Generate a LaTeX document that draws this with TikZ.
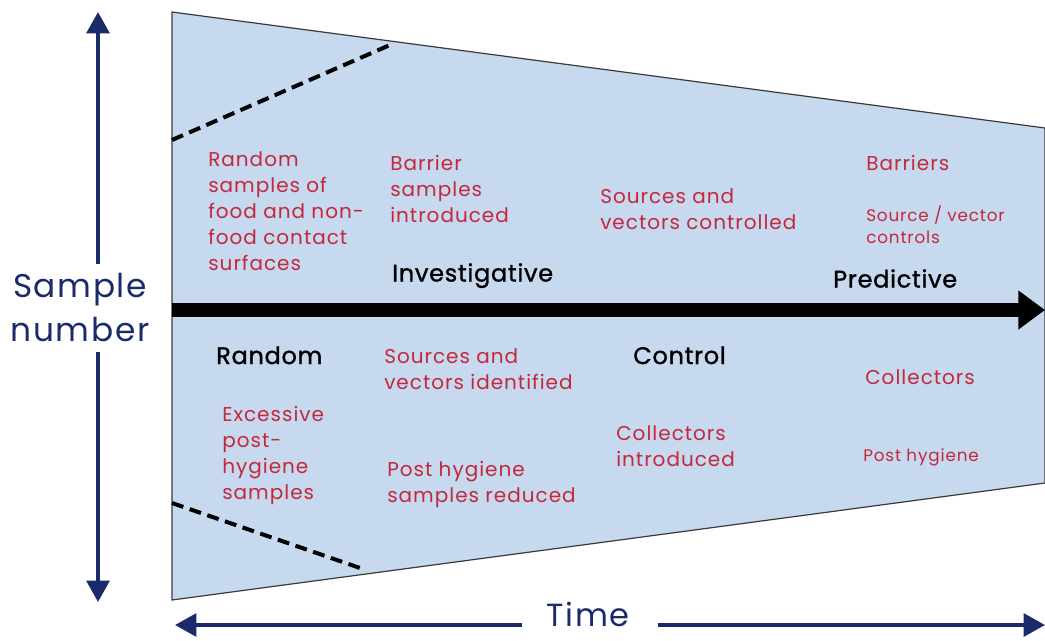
\documentclass[tikz,border=0pt]{standalone}
\usepackage{fontspec}
\setmainfont{Poppins}[LetterSpace=5]
\newfontfamily\phasefont{Poppins}[LetterSpace=3,FakeBold=1.2]
\usetikzlibrary{arrows.meta}
\definecolor{navy}{HTML}{1B2A6B}
\definecolor{fillblue}{HTML}{C6D9EE}
\definecolor{redtxt}{HTML}{C4283C}
\definecolor{edge}{HTML}{3A3A3A}
\tikzset{
  redlbl/.style={anchor=north west, align=left, text=redtxt, inner sep=0pt, font=\fontsize{15pt}{19.5pt}\selectfont},
  smalllbl/.style={redlbl, font=\fontsize{12.6pt}{17pt}\selectfont},
  phase/.style={anchor=north west, inner sep=0pt, text=black, font=\phasefont\fontsize{18pt}{20pt}\selectfont},
  axislbl/.style={text=navy, align=center, font=\fontsize{24.6pt}{33pt}\selectfont},
  navyarrow/.style={draw=navy, line width=3pt, -{Triangle[length=16pt,width=17pt]}}
}
\begin{document}
\begin{tikzpicture}[x=0.75pt,y=-0.75pt]
\useasboundingbox (0,0) rectangle (1045,640);
% trapezoid
\draw[edge, fill=fillblue, line width=0.9pt] (172,12) -- (1045,128) -- (1045,483) -- (172,600) -- cycle;
% dashed lines
\draw[black, line width=3pt, dash pattern=on 9pt off 5pt] (172,140) -- (390,45);
\draw[black, line width=3pt, dash pattern=on 9pt off 5pt] (172,503) -- (360,568);
% central black arrow
\coordinate (ms) at (172,310);
\coordinate (me) at (1045,310);
\draw[black, line width=10.5pt, -{Triangle[length=20pt,width=28pt]}] (ms) -- (me);
% axis labels
\node[axislbl] (sn) at (80,308) {Sample\\number};
\coordinate (vtop) at (98,12);
\coordinate (vbot) at (98,602);
\draw[navyarrow] (sn.north -| vtop) ++(0,-5) -- (vtop);
\draw[navyarrow] (sn.south -| vbot) ++(0,5) -- (vbot);
\node[text=navy, inner sep=0pt, font=\fontsize{24pt}{28pt}\selectfont] (time) at (588,614) {Time};
\coordinate (tl) at (175,625);
\coordinate (tr) at (1045,625);
\draw[navyarrow] (time.west |- tl) ++(-24,0) -- (tl);
\draw[navyarrow] (time.east |- tr) ++(28,0) -- (tr);
% upper texts
\node[redlbl] (t1) at (208,151) {Random\\samples of\\food and non-\\food contact\\surfaces};
\node[redlbl] (t2) at (390,155) {Barrier\\samples\\introduced};
\node[redlbl] (t3) at (600,188) {Sources and\\vectors controlled};
\node[redlbl] (t4) at (866,155) {Barriers};
\node[smalllbl] (t5) at (866,205) {Source / vector\\controls};
\node[phase] (p1) at (392,263) {Investigative};
\node[phase] (p2) at (833,269) {Predictive};
% lower texts
\node[phase] (p3) at (216,346) {Random};
\node[redlbl] (b1) at (384,348) {Sources and\\vectors identified};
\node[phase] (p4) at (633,346) {Control};
\node[redlbl] (b2) at (865,369) {Collectors};
\node[redlbl] (b3) at (222,406) {Excessive\\post-\\hygiene\\samples};
\node[redlbl] (b4) at (387,461) {Post hygiene\\samples reduced};
\node[redlbl] (b5) at (616,425) {Collectors\\introduced};
\node[smalllbl] (b6) at (863,448) {Post hygiene};
\end{tikzpicture}
\end{document}
